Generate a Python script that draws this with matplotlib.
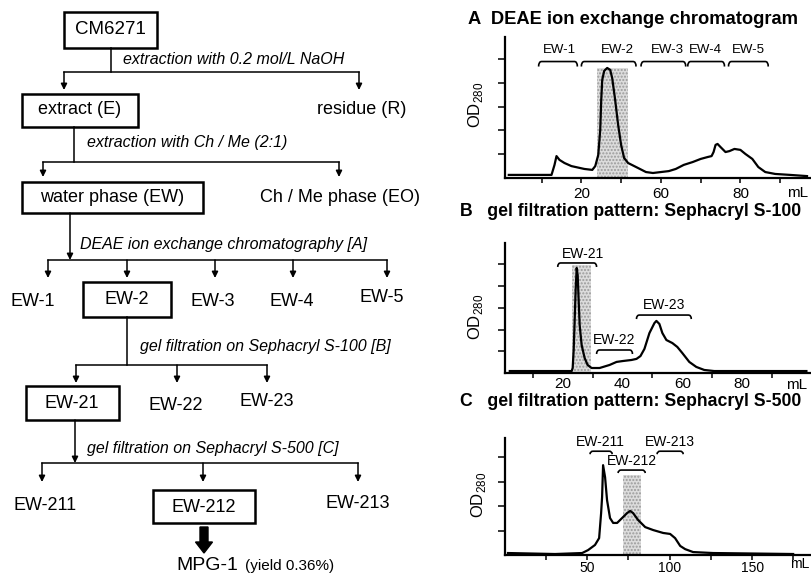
import matplotlib
matplotlib.use("Agg")
import matplotlib.pyplot as plt
from matplotlib.path import Path
from matplotlib.patches import PathPatch, Rectangle

plt.rcParams['font.family'] = ['Liberation Sans', 'DejaVu Sans']

# ---- chromatogram data (elution volume, OD280) ----
a_ml = [1.75, 12.5, 13.25, 13.75, 14.5, 15.75, 17.5, 20.75, 22.75, 23.5, 24.25, 24.75,
        25.0, 25.25, 25.75, 26.5, 27.25, 27.75, 28.5, 29.25, 30.0, 30.75, 31.75, 34.25,
        36.25, 38.0, 40.0, 42.0, 43.75, 45.75, 48.0, 50.0, 51.75, 52.75, 53.25, 53.75,
        54.25, 55.0, 56.25, 57.25, 58.5, 60.0, 61.25, 63.0, 64.5, 66.25, 68.75, 72.5, 76.75]
a_od = [0.13, 0.13, 0.55, 0.92, 0.76, 0.63, 0.50, 0.38, 0.34, 0.50, 0.97, 2.02,
        3.28, 4.12, 4.50, 4.62, 4.54, 4.20, 3.28, 2.23, 1.39, 0.84, 0.63, 0.42,
        0.25, 0.21, 0.25, 0.29, 0.38, 0.55, 0.67, 0.80, 0.88, 0.92, 1.09, 1.39,
        1.43, 1.30, 1.09, 1.13, 1.22, 1.18, 1.01, 0.80, 0.46, 0.25, 0.17, 0.13, 0.08]

b_ml = [2.3, 23.0, 23.33, 23.67, 24.0, 24.33, 24.67, 25.0, 25.33, 25.67, 26.33, 27.33,
        28.33, 29.67, 32.33, 35.67, 38.0, 40.0, 43.0, 44.67, 46.0, 47.33, 49.0, 50.67,
        51.33, 52.33, 53.33, 54.67, 56.67, 58.33, 60.0, 62.33, 64.67, 67.33, 70.67, 101.5]
b_od = [0.09, 0.09, 0.23, 1.06, 2.44, 3.83, 4.84, 4.52, 3.36, 2.21, 1.29, 0.69,
        0.37, 0.23, 0.23, 0.37, 0.51, 0.55, 0.60, 0.65, 0.78, 1.11, 1.84, 2.30,
        2.40, 2.26, 1.84, 1.52, 1.38, 1.20, 0.92, 0.51, 0.28, 0.14, 0.09, 0.09]

c_ml = [2.1, 30.6, 47.0, 50.6, 54.8, 57.3, 58.5, 59.1, 59.7, 60.9, 62.1, 63.9, 65.8,
        68.2, 71.2, 74.2, 76.1, 77.9, 80.9, 85.2, 90.0, 96.1, 100.3, 103.3, 106.4,
        109.4, 114.2, 126.4, 174.8]
c_od = [0.08, 0.04, 0.08, 0.20, 0.41, 0.69, 1.71, 2.37, 3.67, 3.18, 2.24, 1.51, 1.31,
        1.31, 1.51, 1.71, 1.80, 1.71, 1.43, 1.14, 1.02, 0.90, 0.86, 0.69, 0.37,
        0.24, 0.12, 0.08, 0.04]

# pooled (shaded) fractions: (start, end, top)
a_pool = (24.0, 31.75, 4.62)
b_pool = (23.0, 29.33, 4.98)
c_pool = (71.8, 82.7, 3.27)

# fraction brackets: (label, start, end, bracket level, label x, label y)
a_fractions = [('EW-1', 9.25, 19.0, 4.89, 14.5, 5.38),
               ('EW-2', 20.0, 33.75, 4.89, 29.0, 5.38),
               ('EW-3', 35.0, 46.25, 4.89, 41.75, 5.38),
               ('EW-4', 46.75, 56.0, 4.89, 51.25, 5.38),
               ('EW-5', 57.0, 67.0, 4.89, 62.0, 5.38)]
b_fractions = [('EW-21', 18.33, 31.33, 5.07, 26.67, 5.47),
               ('EW-22', 31.33, 43.33, 1.06, 37.33, 1.52),
               ('EW-23', 44.67, 63.0, 2.67, 54.0, 3.13)]
c_fractions = [('EW-211', 51.8, 65.2, 4.24, 57.9, 4.61),
               ('EW-212', 68.8, 85.2, 3.47, 77.3, 3.82),
               ('EW-213', 92.4, 108.2, 4.24, 100.3, 4.61)]

a_ticks = [10, 20, 30, 40, 50, 60, 70]
a_ticklabels = ['', '20', '', '60', '', '80', '']
b_ticks = [20, 40, 60, 80]
b_minor = [10, 30, 50, 70, 90]
c_ticks = [25, 50, 75, 100, 125, 150, 175]
c_ticklabels = ['', '50', '', '100', '', '150', '']

W, H = 811, 573
fig = plt.figure(figsize=(W / 100, H / 100), dpi=100)

# ---------------- flow chart (pixel coordinates) ----------------
fc = fig.add_axes([0, 0, 1, 1])
fc.set_xlim(0, W)
fc.set_ylim(H, 0)
fc.axis('off')

NODE = 13
STEP = 11.5


def node(x, y, text, box=None, size=NODE):
    fc.text(x, y, text, ha='center', va='center', fontsize=size)
    if box:
        x0, x1, y0, y1 = box
        fc.add_patch(Rectangle((x0, y0), x1 - x0, y1 - y0, fill=False, lw=1.8, ec='k'))


def arrow(x, y0, y1):
    fc.annotate('', xy=(x, y1), xytext=(x, y0),
                arrowprops=dict(arrowstyle='-|>', mutation_scale=9, lw=1.1, color='k',
                                shrinkA=0, shrinkB=0))


def branch(xs, y_src, y_bar, targets, y_end, head=False):
    if head:
        arrow(xs, y_src, y_bar)
    else:
        fc.plot([xs, xs], [y_src, y_bar], color='k', lw=1.1)
    fc.plot([min(targets), max(targets)], [y_bar, y_bar], color='k', lw=1.1)
    for t in targets:
        arrow(t, y_bar, y_end)


def step(x, y, text):
    fc.text(x, y, text, ha='left', va='center', fontsize=STEP, style='italic')


node(110, 30, 'CM6271', box=(64, 157, 12, 48), size=13.5)
branch(111, 48, 72, [64, 359], 90)
step(123, 60, 'extraction with 0.2 mol/L NaOH')
node(80, 110, 'extract (E)', box=(22, 138, 94, 127))
node(362, 110, 'residue (R)')
branch(74, 127, 162, [43, 339], 177)
step(87, 143, 'extraction with Ch / Me (2:1)')
node(112, 198, 'water phase (EW)', box=(22, 203, 182, 213))
node(340, 198, 'Ch / Me phase (EO)')
branch(70, 213, 260, [48, 127, 215, 293, 387], 278, head=True)
step(80, 245, 'DEAE ion exchange chromatography [A]')
node(33, 302, 'EW-1')
node(127, 300, 'EW-2', box=(83, 171, 282, 317))
node(213, 302, 'EW-3')
node(292, 302, 'EW-4')
node(382, 298, 'EW-5')
branch(127, 317, 365, [76, 177, 267], 383)
step(140, 347, 'gel filtration on Sephacryl S-100 [B]')
node(72, 404, 'EW-21', box=(26, 119, 386, 420))
node(176, 405, 'EW-22')
node(267, 402, 'EW-23')
branch(75, 420, 463, [42, 203, 358], 482, head=True)
step(87, 448, 'gel filtration on Sephacryl S-500 [C]')
node(45, 506, 'EW-211')
node(204, 507, 'EW-212', box=(153, 255, 490, 523))
node(358, 503, 'EW-213')
fc.arrow(204, 527, 0, 26, width=8, head_width=17, head_length=11, color='k',
         length_includes_head=True)
fc.text(207, 565, 'MPG-1', ha='center', va='center', fontsize=14)
fc.text(245, 566, '(yield 0.36%)', ha='left', va='center', fontsize=11)


# ---------------- chromatograms ----------------
def bracket(ax, x0, x1, y, hook_px=5, corner_px=3):
    bb = ax.get_position()
    xr = ax.get_xlim()
    yr = ax.get_ylim()
    dx = corner_px * (xr[1] - xr[0]) / (bb.width * W)
    dy = hook_px * (yr[1] - yr[0]) / (bb.height * H)
    verts = [(x0, y - dy), (x0, y), (x0 + dx, y), (x1 - dx, y), (x1, y), (x1, y - dy)]
    codes = [Path.MOVETO, Path.CURVE3, Path.CURVE3, Path.LINETO, Path.CURVE3, Path.CURVE3]
    ax.add_patch(PathPatch(Path(verts, codes), fill=False, lw=1.2, ec='k'))


def panel(rect, ml, od, pool, fractions, xlim, ylim, nyt, title, title_xy, lab_xy,
          brace_size=9.5, hook=5, title_size=12.7):
    ax = fig.add_axes(rect)
    ax.set_xlim(*xlim)
    ax.set_ylim(*ylim)
    x0, x1, top = pool
    ax.add_patch(Rectangle((x0, 0), x1 - x0, top, facecolor='#dcdcdc', edgecolor='#9a9a9a',
                           hatch='.....', lw=0, zorder=1))
    ax.plot(ml, od, color='k', lw=1.6, zorder=3)
    for name, s, e, lev, lx, ly in fractions:
        bracket(ax, s, e, lev, hook_px=hook)
        ax.text(lx, ly, name, ha='center', va='center', fontsize=brace_size)
    for side in ('top', 'right'):
        ax.spines[side].set_visible(False)
    for side in ('left', 'bottom'):
        ax.spines[side].set_linewidth(1.6)
    ax.set_yticks(range(1, nyt + 1))
    ax.set_yticklabels([])
    ax.tick_params(axis='y', direction='out', length=5, width=1.1)
    ax.tick_params(axis='x', direction='out', length=3.5, width=1.1, labelsize=11, pad=3)
    ax.set_ylabel(r'OD$_{\mathregular{280}}$', fontsize=12)
    ax.yaxis.set_label_coords(*lab_xy)
    fig.text(title_xy[0] / W, 1 - title_xy[1] / H, title, fontsize=title_size,
             fontweight='bold', ha='left', va='center')
    return ax


ax_a = panel([505 / W, 1 - 178 / H, 305 / W, 141 / H], a_ml, a_od, a_pool, a_fractions,
             (0.8, 77.5), (0, 5.92), 5, 'A  DEAE ion exchange chromatogram', (468, 20),
             (-0.066, 0.52), title_size=13.2)
ax_a.set_xticks(a_ticks)
ax_a.set_xticklabels(a_ticklabels)

ax_b = panel([505 / W, 1 - 373 / H, 305 / W, 130 / H], b_ml, b_od, b_pool, b_fractions,
             (0.7, 102.7), (0, 5.99), 5, 'B   gel filtration pattern: Sephacryl S-100',
             (460, 211), (-0.066, 0.43), brace_size=10, hook=4)
ax_b.set_xticks(b_ticks)
ax_b.set_xticks(b_minor, minor=True)
ax_b.tick_params(axis='x', which='major', length=0, pad=3)
ax_b.tick_params(axis='x', which='minor', direction='out', length=3.5, width=1.1)

ax_c = panel([505 / W, 1 - 555 / H, 305 / W, 117 / H], c_ml, c_od, c_pool, c_fractions,
             (0.3, 185), (0, 4.78), 4, 'C   gel filtration pattern: Sephacryl S-500',
             (460, 401), (-0.056, 0.51), brace_size=10, hook=3)
ax_c.set_xticks(c_ticks)
ax_c.set_xticklabels(c_ticklabels)
ax_c.tick_params(axis='x', labelsize=10, pad=0.5)

for xm, ym, fs in [(798, 193, 11), (797, 385, 11), (800, 564, 10)]:
    fig.text(xm / W, 1 - ym / H, 'mL', fontsize=fs, ha='center', va='center')

fig.savefig('out.png', dpi=100)
